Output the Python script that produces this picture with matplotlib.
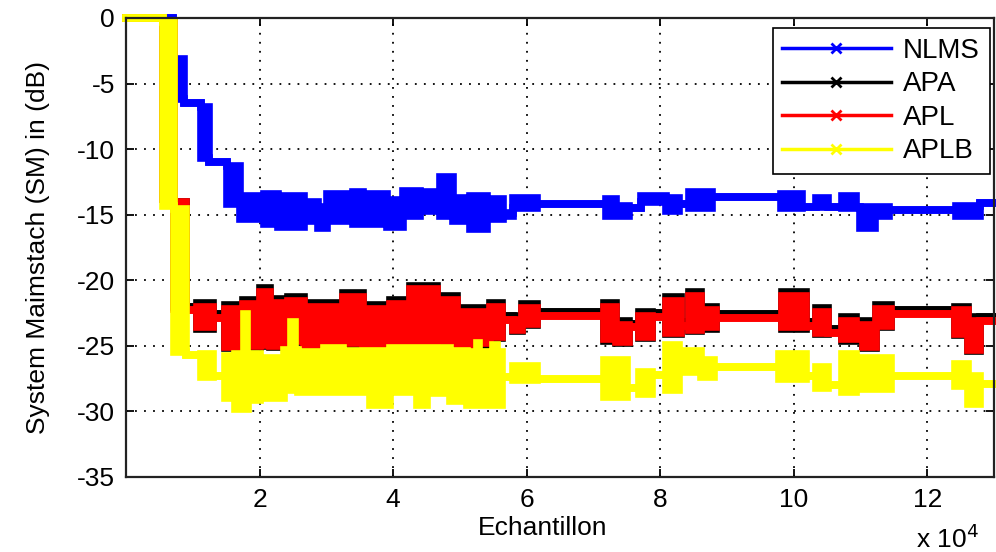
import numpy as np
import matplotlib.pyplot as plt
from matplotlib.lines import Line2D
from matplotlib.ticker import FuncFormatter

plt.rcParams['font.family'] = ['Liberation Sans', 'DejaVu Sans']
plt.rcParams['axes.unicode_minus'] = False

# x positions are in units of 1e4 samples; each segment starts at the value
# and holds until the next start. lo / hi = band of the curve on that segment.
x_end = 13.0

nlms_x = [0.00, 0.70, 0.87, 1.12, 1.25, 1.52, 1.70, 2.06, 2.27, 2.66, 2.87, 3.01,
          3.40, 3.55, 3.91, 4.15, 4.40, 4.70, 4.90, 5.15, 5.40, 5.64, 5.79, 6.15,
          7.19, 7.34, 7.54, 7.72, 8.09, 8.28, 8.43, 8.78, 9.81, 10.12, 10.33, 10.52,
          10.72, 10.93, 11.00, 11.22, 11.42, 12.43, 12.79]
nlms_lo = [0, -6.2, -6.5, -10.7, -11.0, -14.2, -15.3, -15.7, -15.9, -15.5, -16.0, -15.5,
           -15.7, -15.7, -15.9, -15.1, -14.7, -15.1, -15.5, -16.1, -15.3, -15.1, -14.5, -14.2,
           -15.1, -15.1, -14.5, -14.0, -14.7, -14.2, -14.5, -13.65, -14.5, -14.4, -14.4, -14.4,
           -14.5, -14.4, -16.0, -15.1, -14.65, -15.1, -14.1]
nlms_hi = [0, -3.1, -6.5, -6.8, -11.0, -11.3, -13.6, -13.4, -13.6, -14.0, -14.4, -13.4,
           -13.3, -13.4, -13.9, -13.2, -13.3, -12.1, -13.7, -13.6, -13.8, -14.9, -13.7, -14.2,
           -13.8, -14.3, -14.5, -13.6, -13.7, -14.2, -13.3, -13.65, -13.4, -14.4, -13.7, -14.4,
           -13.6, -14.4, -14.4, -14.4, -14.65, -14.3, -14.1]

apl_x = [0.00, 0.55, 0.72, 0.90, 1.07, 1.30, 1.49, 1.75, 2.01, 2.16, 2.42, 2.66,
         2.96, 3.25, 3.55, 3.96, 4.25, 4.66, 4.96, 5.19, 5.45, 5.63, 5.79, 5.93,
         6.16, 7.16, 7.34, 7.54, 7.69, 7.88, 8.09, 8.31, 8.43, 8.61, 8.84, 9.82,
         10.18, 10.34, 10.52, 10.72, 10.93, 11.04, 11.24, 11.45, 12.42, 12.61, 12.79]
apl_lo = [0, -13.8, -22.2, -22.3, -23.6, -22.9, -25.1, -25.0, -24.9, -25.0, -24.6, -24.9,
          -24.8, -24.8, -25.1, -25.0, -24.8, -24.6, -25.3, -24.8, -24.3, -23.0, -23.8, -23.3,
          -22.7, -24.5, -24.7, -23.6, -24.3, -22.8, -24.0, -23.5, -23.8, -23.6, -22.9, -23.6,
          -23.5, -24.0, -24.0, -24.5, -24.0, -25.1, -23.5, -22.6, -24.1, -25.3, -23.1]
apl_hi = [0, -0.3, -14.0, -22.3, -22.0, -22.9, -22.2, -21.8, -20.9, -21.7, -21.6, -22.0,
          -22.0, -21.3, -22.2, -21.8, -20.7, -21.5, -22.4, -22.4, -22.0, -23.0, -23.0, -22.1,
          -22.7, -22.0, -23.4, -23.6, -22.7, -22.8, -21.6, -23.5, -21.2, -22.3, -22.9, -21.2,
          -23.5, -22.4, -24.0, -23.1, -24.0, -23.4, -22.2, -22.6, -22.3, -23.1, -23.1]

apa_x = apl_x
apa_lo = [0, -13.8, -22.0, -22.0, -23.7, -22.6, -25.2, -25.1, -25.0, -25.1, -24.7, -25.0,
          -24.9, -24.9, -25.2, -25.1, -24.9, -24.7, -25.4, -24.9, -24.4, -22.7, -23.9, -23.4,
          -22.4, -24.6, -24.8, -23.3, -24.4, -22.5, -24.1, -23.2, -23.9, -23.7, -22.6, -23.7,
          -23.2, -24.1, -23.7, -24.6, -23.7, -25.2, -23.6, -22.3, -24.2, -25.4, -22.8]
apa_hi = [0, -0.3, -14.0, -22.0, -21.7, -22.6, -21.9, -21.5, -20.6, -21.4, -21.3, -21.7,
          -21.7, -21.0, -21.9, -21.5, -20.4, -21.2, -22.1, -22.1, -21.7, -22.7, -22.7, -21.8,
          -22.4, -21.7, -23.1, -23.3, -22.4, -22.5, -21.3, -23.2, -20.9, -22.0, -22.6, -20.9,
          -23.2, -22.1, -23.7, -22.8, -23.7, -23.1, -21.9, -22.3, -22.0, -22.8, -22.8]

aplb_x = [0.00, 0.55, 0.72, 0.90, 1.12, 1.30, 1.49, 1.64, 1.77, 1.81, 1.82, 2.01,
          2.36, 2.47, 2.53, 2.57, 2.96, 3.25, 3.66, 3.96, 4.36, 4.51, 4.85, 5.10,
          5.25, 5.29, 5.45, 5.50, 5.55, 5.63, 5.79, 6.16, 7.16, 7.51, 7.69, 7.88,
          8.09, 8.28, 8.39, 8.61, 8.81, 9.78, 10.18, 10.34, 10.52, 10.72, 10.93, 11.04,
          11.45, 12.42, 12.61, 12.79]
aplb_lo = [0, -14.3, -25.5, -25.7, -27.4, -27.3, -29.0, -29.8, -29.8, -29.8, -29.1, -29.0,
           -28.4, -28.4, -28.4, -28.5, -28.5, -28.5, -29.5, -28.5, -29.5, -28.6, -29.2, -29.5,
           -29.5, -29.5, -29.5, -29.5, -29.5, -27.4, -27.6, -27.5, -28.9, -28.2, -28.7, -27.2,
           -28.4, -26.8, -27.0, -27.4, -26.6, -27.5, -27.3, -28.2, -28.0, -28.5, -27.3, -28.3,
           -27.3, -28.1, -29.4, -27.9]
aplb_hi = [0, -0.3, -14.6, -25.7, -25.6, -27.3, -25.8, -25.6, -22.6, -25.6, -25.6, -25.9,
           -25.3, -23.2, -25.3, -25.5, -25.2, -25.4, -25.4, -25.2, -25.2, -25.2, -25.4, -25.5,
           -24.8, -25.5, -25.5, -24.9, -25.5, -27.4, -26.5, -27.5, -26.1, -28.2, -27.0, -27.2,
           -24.9, -26.8, -25.4, -26.1, -26.6, -25.6, -27.3, -26.6, -28.0, -25.6, -27.3, -25.9,
           -27.3, -26.4, -27.3, -27.9]

series = [('NLMS', 'blue', nlms_x, nlms_lo, nlms_hi),
          ('APA', 'black', apa_x, apa_lo, apa_hi),
          ('APL', 'red', apl_x, apl_lo, apl_hi),
          ('APLB', 'yellow', aplb_x, aplb_lo, aplb_hi)]

fig = plt.figure(figsize=(9.96, 5.52), dpi=100)
ax = fig.add_axes([0.1265, 0.1359, 0.8715, 0.8315])

lw = 5.5
handles = []
for i, (name, col, xs, lo, hi) in enumerate(series):
    x = np.array(xs + [x_end]) * 1e4
    lo2 = np.append(lo, lo[-1])
    hi2 = np.append(hi, hi[-1])
    z = 3 + i
    ax.fill_between(x, lo2, hi2, step='post', color=col, lw=0, zorder=z)
    ax.step(x, lo2, where='post', color=col, lw=lw, zorder=z, clip_on=False,
            solid_joinstyle='miter')
    ax.step(x, hi2, where='post', color=col, lw=lw, zorder=z, clip_on=False,
            solid_joinstyle='miter')
    handles.append(Line2D([], [], color=col, lw=2.5, marker='x', markersize=7,
                          markeredgewidth=2, label=name))

ax.set_xlim(0, 13e4)
ax.set_ylim(-35, 0)
ax.set_xticks(np.arange(2, 13, 2) * 1e4)
ax.set_yticks(np.arange(-35, 1, 5))
ax.xaxis.set_major_formatter(FuncFormatter(lambda v, p: '%d' % round(v / 1e4)))
ax.grid(True, linestyle=(0, (1, 4)), color='black', lw=1.3)
ax.set_axisbelow(True)
ax.tick_params(direction='in', top=True, right=True, length=6, width=1.3,
               labelsize=19, pad=8)
for s in ax.spines.values():
    s.set_linewidth(1.6)
    s.set_color('#222222')
    s.set_zorder(10)

ax.set_xlabel('Echantillon', fontsize=19)
ax.xaxis.set_label_coords(0.48, -0.085)
ax.set_ylabel('System Maimstach (SM) in (dB)', fontsize=19)
ax.yaxis.set_label_coords(-0.088, 0.5)
ax.text(0.983, -0.135, r'x 10$^4$', transform=ax.transAxes, ha='right', va='center',
        fontsize=19)

leg = ax.legend(handles=handles, loc='upper right', bbox_to_anchor=(0.995, 0.978),
                borderaxespad=0, fontsize=20, handlelength=3.9, labelspacing=0.27,
                numpoints=1, handletextpad=0.45, fancybox=False, framealpha=1,
                edgecolor='black', borderpad=0.35)
leg.get_frame().set_linewidth(1.2)
leg.set_zorder(20)

fig.savefig('out.png', dpi=100)
